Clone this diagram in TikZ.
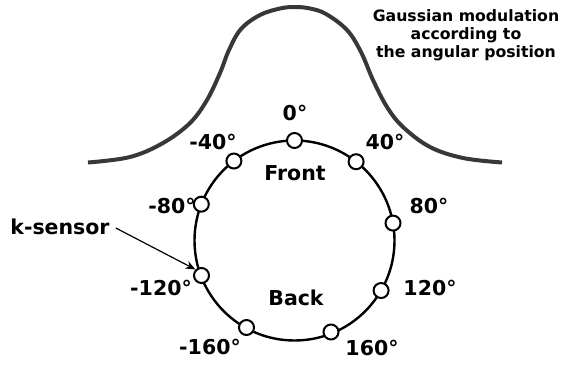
\documentclass[tikz,border=0pt]{standalone}
\usepackage{fontspec}
\setmainfont{DejaVu Sans}
\usetikzlibrary{arrows.meta}
\begin{document}
\begin{tikzpicture}[x=1pt,y=-1pt,
  sensor/.style={circle,draw=black,fill=white,line width=2pt,minimum size=15pt,inner sep=0pt},
  lbl/.style={font=\fontsize{20.5}{22}\selectfont\bfseries,inner sep=0pt},
  ttl/.style={font=\fontsize{15.7}{17.8}\selectfont\bfseries,align=center,inner sep=0pt},
  gauss/.style={draw=black!78,line width=4pt},
  ring/.style={draw=black,line width=2.4pt}]
\useasboundingbox (0,0) rectangle (561,364);
% Gaussian curve
\draw[gauss] plot[smooth,tension=0.6] coordinates {(88,162.5) (130,157) (163,143) (190,123) (207,100) (220,73) (229,50) (241,29) (260,15) (280,8.5) (295,7) (310,8.5) (326,14) (347,30) (361,52) (373,80) (387,107) (403,127) (430,147) (463,158) (502,162.5)};
\node[ttl] (title) at (466,35) {Gaussian modulation\\according to\\the angular position};
% ring
\coordinate (c) at (294.5,240.5);
\draw[ring] (c) circle[radius=100];
\node[sensor] (s0) at (294.5,140.5) {};
\node[sensor] (s40) at (356.1,161.7) {};
\node[sensor] (s80) at (393,223.1) {};
\node[sensor] (s120) at (381.1,290.5) {};
\node[sensor] (s160) at (331,332) {};
\node[sensor] (sm160) at (246.5,327.5) {};
\node[sensor] (sm120) at (201.5,275.5) {};
\node[sensor] (sm80) at (201.3,204.2) {};
\node[sensor] (sm40) at (233.9,161) {};
% labels
\node[lbl] (l0) at (295,113) {0°};
\node[lbl] (l40) at (385,142) {40°};
\node[lbl] (lm40) at (213,142) {-40°};
\node[lbl] (l80) at (429,206) {80°};
\node[lbl] (lm80) at (172,206) {-80°};
\node[lbl] (l120) at (430,288) {120°};
\node[lbl] (lm120) at (161,288) {-120°};
\node[lbl] (l160) at (372,348) {160°};
\node[lbl] (lm160) at (210,347) {-160°};
\node[lbl] (front) at (295,173) {Front};
\node[lbl] (back) at (296,298) {Back};
\node[lbl] (ks) at (60,227) {k-sensor};
\draw[line width=1.2pt,-{Stealth[length=10pt,width=8pt]}] (ks.east) ++(6,1) coordinate (ka) -- (sm120.north west);
\end{tikzpicture}
\end{document}
